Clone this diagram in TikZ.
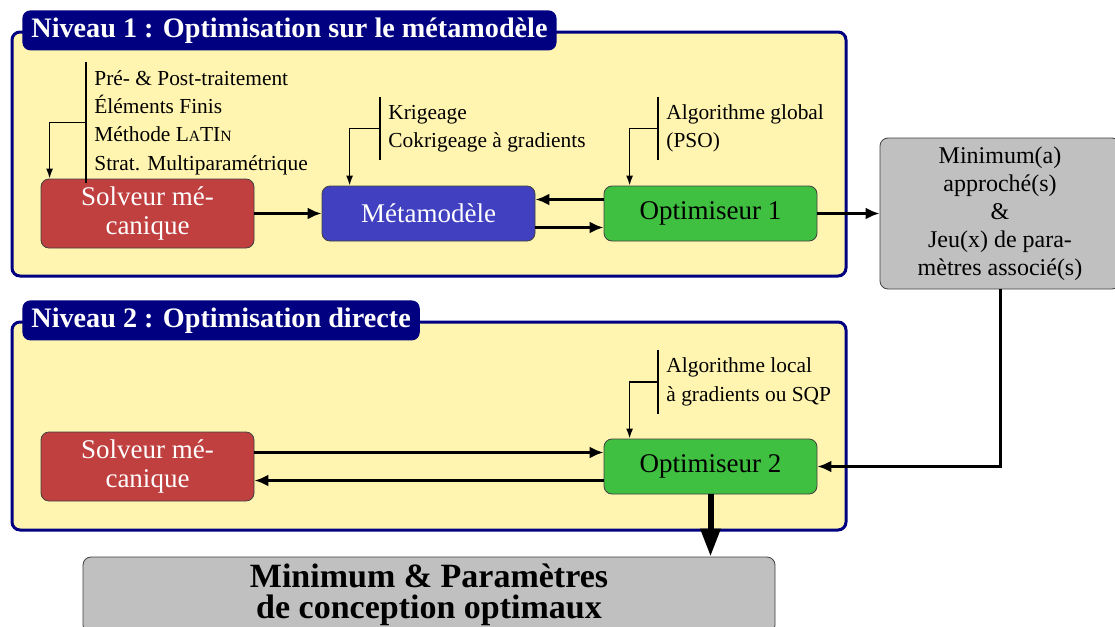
\documentclass[tikz,border=0pt]{standalone}
\usepackage{fontspec}
\setmainfont{Liberation Serif}
\usepackage{xcolor}
\usetikzlibrary{positioning,arrows.meta}

\definecolor{bleunuit}{HTML}{000080}
\definecolor{jaunepale}{HTML}{FFF5B0}
\definecolor{rougesolveur}{HTML}{C04040}
\definecolor{bleumeta}{HTML}{4040C0}
\definecolor{vertopti}{HTML}{40C040}
\definecolor{grisres}{HTML}{C0C0C0}

\begin{document}
\begin{tikzpicture}[
    x=0.5pt, y=-0.5pt,
    panneau/.style={draw=bleunuit, line width=1.5pt, fill=jaunepale, rounded corners=4pt, minimum width=417pt},
    titre/.style={fill=bleunuit, text=white, rounded corners=4pt, anchor=north west, minimum height=20pt, inner xsep=4.5pt, font=\fontsize{14.1}{16}\selectfont\bfseries},
    bloc/.style={draw=black!75, line width=0.4pt, rounded corners=4pt, align=center, minimum width=106.5pt, font=\fontsize{13.5}{14.5}\selectfont},
    resultat/.style={draw=black!75, line width=0.4pt, fill=grisres, rounded corners=4pt, align=center},
    note/.style={anchor=west, align=left, inner xsep=4pt, font=\fontsize{10.7}{14.2}\selectfont},
    fleche/.style={line width=1.5pt, -{Latex[length=7pt,width=6pt]}},
    renvoi/.style={line width=0.75pt, -{Latex[length=5pt,width=3.5pt]}}
  ]
    \useasboundingbox (0,0) rectangle (1115,627);

    % Cadres des deux niveaux
    \node[panneau, minimum height=122pt] (niveau1) at (429,154) {};
    \node[titre] (titre1) at (22,10) {Niveau 1 : Optimisation sur le métamodèle};
    \node[panneau, minimum height=104pt] (niveau2) at (429,426) {};
    \node[titre] (titre2) at (22,300) {Niveau 2 : Optimisation directe};

    % Niveau 1
    \node[bloc, fill=rougesolveur, text=white, minimum height=34.5pt] (solveur1) at (147.5,213.5) {Solveur mé-\\canique};
    \node[bloc, fill=bleumeta, text=white, minimum height=27.5pt] (meta) at (428.5,213.5) {Métamodèle};
    \node[bloc, fill=vertopti, minimum height=27.5pt] (opti1) at (710.5,213.5) {Optimiseur 1};

    % Résultat intermédiaire
    \node[resultat, minimum width=120pt, minimum height=75.5pt, font=\fontsize{12}{14}\selectfont] (approche) at (1000,213.5) {Minimum(a)\\approché(s)\\\&\\Jeu(x) de para-\\mètres associé(s)};

    % Niveau 2
    \node[bloc, fill=rougesolveur, text=white, minimum height=34.5pt] (solveur2) at (147.5,466.5) {Solveur mé-\\canique};
    \node[bloc, fill=vertopti, minimum height=27.5pt] (opti2) at (710.5,466.5) {Optimiseur 2};

    % Résultat final
    \node[resultat, minimum width=346pt, minimum height=38pt, font=\fontsize{17}{15.5}\selectfont\bfseries] (final) at (429,595) {Minimum \& Paramètres\\de conception optimaux};

    % Annotations
    \node[note, minimum height=60.5pt] (outils) at (86,122.5) {Pré- \& Post-traitement\\Éléments Finis\\Méthode L{\fontsize{7.8}{9}\selectfont A}TI{\fontsize{7.8}{9}\selectfont N}\\Strat. Multiparamétrique};
    \node[note, minimum height=31.5pt] (krig) at (380,128.5) {Krigeage\\Cokrigeage à gradients};
    \node[note, minimum height=31.5pt] (pso) at (658,128.5) {Algorithme global\\(PSO)};
    \node[note, minimum height=32pt] (sqp) at (658,382) {Algorithme local\\à gradients ou SQP};

    \foreach \n in {outils,krig,pso,sqp}
      \draw[line width=0.75pt] (\n.north west) -- (\n.south west);

    \draw[renvoi] (outils.west) -| ([xshift=4.5pt]solveur1.north west);
    \draw[renvoi] (krig.west) -| ([xshift=14pt]meta.north west);
    \draw[renvoi] (pso.west) -| ([xshift=13pt]opti1.north west);
    \draw[renvoi] (sqp.west) -| ([xshift=13pt]opti2.north west);

    % Flèches du niveau 1
    \draw[fleche] (solveur1) -- (meta);
    \draw[fleche] ([yshift=7pt]opti1.west) -- ([yshift=7pt]meta.east);
    \draw[fleche] ([yshift=-7pt]meta.east) -- ([yshift=-7pt]opti1.west);
    \draw[fleche] (opti1) -- (approche);

    % Passage au niveau 2
    \draw[fleche] (approche.south) |- (opti2.east);
    \draw[fleche] ([yshift=7pt]solveur2.east) -- ([yshift=7pt]opti2.west);
    \draw[fleche] ([yshift=-7pt]opti2.west) -- ([yshift=-7pt]solveur2.east);
    \draw[line width=3pt, -{Triangle[length=14pt,width=9.5pt]}] (opti2) -- (opti2 |- final.north);

  \end{tikzpicture}
\end{document}
